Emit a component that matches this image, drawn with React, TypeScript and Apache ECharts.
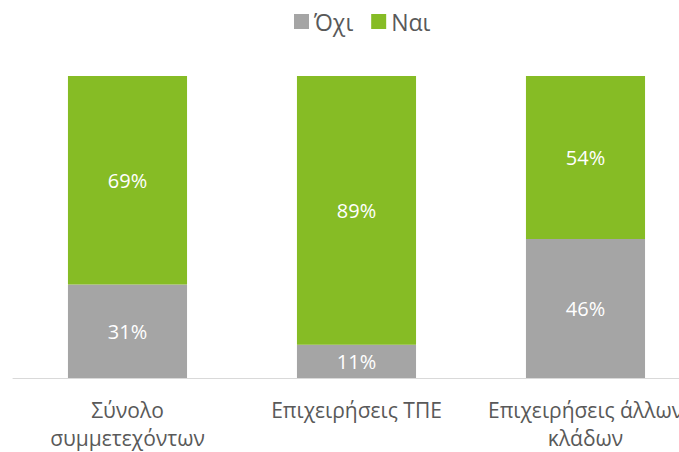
import React, { useEffect, useRef } from "react";
import * as echarts from "echarts";

const categories = ["Σύνολο\nσυμμετεχόντων", "Επιχειρήσεις ΤΠΕ", "Επιχειρήσεις άλλων\nκλάδων"];
const noValues = [31, 11, 46];
const yesValues = [69, 89, 54];

export default function App() {
  const ref = useRef<HTMLDivElement>(null);
  useEffect(() => {
    const chart = echarts.init(ref.current!, null, { renderer: "svg" });
    const font = "'Open Sans', 'Noto Sans', sans-serif";
    chart.setOption({
      animation: false,
      textStyle: { fontFamily: font },
      legend: {
        top: 5,
        left: 289,
        itemWidth: 15,
        itemHeight: 15,
        itemGap: 18,
        icon: "rect",
        textStyle: { fontSize: 23, color: "#595959", fontFamily: font },
        data: ["Όχι", "Ναι"],
      },
      grid: { left: 13, right: 0, top: 76, bottom: 72, containLabel: false },
      xAxis: {
        type: "category",
        data: categories,
        axisLine: { lineStyle: { color: "#D9D9D9", width: 1 } },
        axisTick: { show: false },
        axisLabel: {
          color: "#595959",
          fontSize: 21,
          lineHeight: 28,
          margin: 18,
          interval: 0,
          fontFamily: font,
        },
      },
      yAxis: {
        type: "value",
        min: 0,
        max: 100,
        show: false,
        splitLine: { show: false },
      },
      series: [
        {
          name: "Όχι",
          type: "bar",
          stack: "total",
          barWidth: "52%",
          data: noValues,
          itemStyle: { color: "#A5A5A5" },
          label: { show: true, position: "inside", color: "#fff", fontSize: 20, formatter: "{c}%", fontFamily: font },
        },
        {
          name: "Ναι",
          type: "bar",
          stack: "total",
          barWidth: "52%",
          data: yesValues,
          itemStyle: { color: "#86BC25" },
          label: { show: true, position: "inside", color: "#fff", fontSize: 20, formatter: "{c}%", fontFamily: font },
        },
      ],
    });
    return () => chart.dispose();
  }, []);
  return (
    <div style={{ width: 679, height: 452, position: "absolute", left: 0, top: 0, overflow: "hidden" }}>
      <div ref={ref} style={{ width: 700, height: 452 }} />
    </div>
  );
}
